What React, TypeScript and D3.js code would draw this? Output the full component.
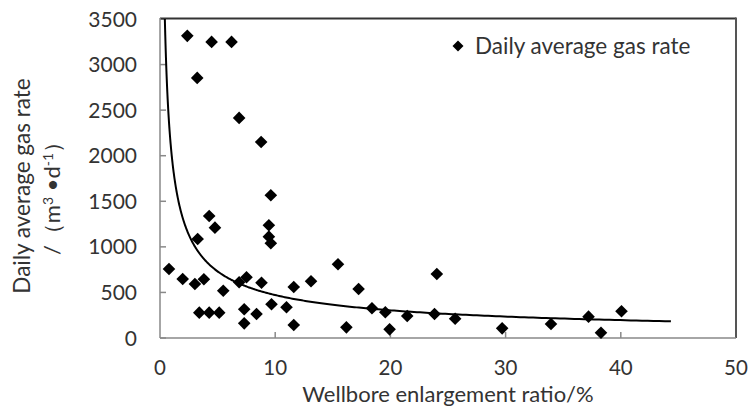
import React from 'react';
import * as d3 from 'd3';

const enlargementRatio = [
  2.37, 4.48, 6.21, 3.23, 6.87, 8.78, 9.62, 4.27, 4.77, 9.45, 9.45, 9.62, 3.27,
  0.78, 1.97, 3.03, 3.81, 5.49, 6.87, 7.51, 8.81, 11.61, 13.11, 15.45, 3.41, 4.27,
  5.14, 7.31, 7.31, 8.38, 9.68, 10.98, 11.61, 16.18, 17.24, 24.03, 18.4, 19.56,
  19.93, 21.46, 23.83, 25.62, 29.7, 33.94, 37.2, 38.28, 40.06,
];
const gasRate = [
  3315, 3249, 3249, 2854, 2415, 2151, 1566, 1339, 1211, 1237, 1112, 1039, 1087,
  757, 648, 593, 644, 519, 611, 666, 607, 560, 622, 809, 278, 278,
  278, 315, 161, 263, 370, 337, 143, 117, 538, 702, 326, 282,
  95, 241, 263, 212, 106, 154, 234, 58, 293,
];
const yTicks = [0, 500, 1000, 1500, 2000, 2500, 3000, 3500];
const xTicks = [0, 10, 20, 30, 40, 50];
const trendA = 2024;
const trendB = -0.633;
const trendXStart = 0.42;
const trendXEnd = 44.35;

const FONT = 'Lato, "Noto Sans", sans-serif';
const TEXT = '#333333';

export default function App() {
  const left = 160, right = 736, top = 19, bottom = 338;
  const x = d3.scaleLinear().domain([0, 50]).range([left, right]);
  const y = d3.scaleLinear().domain([0, 3500]).range([bottom, top]);

  const trendXs = d3.range(0, 401).map((i) => trendXStart * Math.pow(trendXEnd / trendXStart, i / 400));
  const line = d3
    .line<number>()
    .x((d) => x(d))
    .y((d) => y(Math.min(3500, trendA * Math.pow(d, trendB))))
    .curve(d3.curveLinear);

  const diamond = (r: number) => `M0,${-r}L${r},0L0,${r}L${-r},0Z`;

  return (
    <svg
      width={749}
      height={406}
      style={{ position: 'absolute', left: 0, top: 0, background: '#fff' }}
      fontFamily={FONT}
    >
      <rect x={0} y={0} width={749} height={406} fill="#fff" />
      {/* tick marks */}
      {yTicks.map((t) => (
        <line key={'yt' + t} x1={left} x2={left + 6} y1={y(t)} y2={y(t)} stroke="#898989" strokeWidth={1.5} />
      ))}
      {xTicks.slice(1, -1).map((t) => (
        <line key={'xt' + t} x1={x(t)} x2={x(t)} y1={bottom} y2={bottom - 6} stroke="#898989" strokeWidth={1.5} />
      ))}
      {/* borders */}
      <line x1={left} x2={right} y1={top - 0.5} y2={top - 0.5} stroke="#333" strokeWidth={2} />
      <line x1={right} x2={right} y1={top - 1.5} y2={bottom} stroke="#555" strokeWidth={2} />
      <line x1={left} x2={left} y1={top - 1} y2={bottom} stroke="#898989" strokeWidth={1.5} />
      <line x1={left} x2={right} y1={bottom} y2={bottom} stroke="#898989" strokeWidth={1.5} />

      {/* trendline */}
      <path d={line(trendXs) || ''} fill="none" stroke="#000" strokeWidth={2} />

      {/* points */}
      {enlargementRatio.map((v, i) => (
        <path key={'p' + i} d={diamond(6.3)} transform={`translate(${x(v)},${y(gasRate[i])})`} fill="#000" />
      ))}

      {/* y tick labels */}
      {yTicks.map((t) => (
        <text key={'yl' + t} x={137} y={y(t)} dy="0.36em" textAnchor="end" fontSize={21} fill={TEXT}>
          {t}
        </text>
      ))}
      {/* x tick labels */}
      {xTicks.map((t) => (
        <text key={'xl' + t} x={x(t)} y={375} textAnchor="middle" fontSize={20.5} fill={TEXT}>
          {t}
        </text>
      ))}
      <text x={448} y={401.5} textAnchor="middle" fontSize={22} fill={TEXT}>
        Wellbore enlargement ratio/%
      </text>

      {/* y title */}
      <text transform="translate(30,186) rotate(-90)" textAnchor="middle" fontSize={22.5} fill={TEXT}>
        Daily average gas rate
      </text>
      <text transform="translate(60,193) rotate(-90)" textAnchor="middle" fontSize={22} fill={TEXT}>
        /（m<tspan dy={-7} fontSize={14}>3</tspan>
        <tspan dy={7}> •d</tspan>
        <tspan dy={-7} fontSize={14}>-1</tspan>
        <tspan dy={7}>）</tspan>
      </text>

      {/* legend */}
      <path d={diamond(5.5)} transform="translate(458,46)" fill="#000" />
      <text x={475} y={54} fontSize={22.5} fill={TEXT}>
        Daily average gas rate
      </text>
    </svg>
  );
}
